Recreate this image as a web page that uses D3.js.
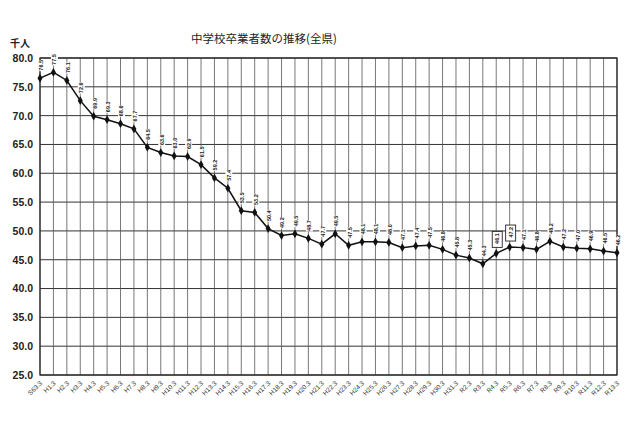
<!DOCTYPE html>
<html><head><meta charset="utf-8">
<script src="https://cdn.jsdelivr.net/npm/d3@7"></script>
<style>
html,body{margin:0;padding:0;background:#fff;}
svg{display:block;}
</style></head>
<body>
<svg id="c" width="640" height="426"></svg>
<script>
const categories = ["S63.3","H1.3","H2.3","H3.3","H4.3","H5.3","H6.3","H7.3","H8.3","H9.3","H10.3","H11.3","H12.3","H13.3","H14.3","H15.3","H16.3","H17.3","H18.3","H19.3","H20.3","H21.3","H22.3","H23.3","H24.3","H25.3","H26.3","H27.3","H28.3","H29.3","H30.3","H31.3","R2.3","R3.3","R4.3","R5.3","R6.3","R7.3","R8.3","R9.3","R10.3","R11.3","R12.3","R13.3"];
const values = [76.5,77.5,76.1,72.6,69.9,69.3,68.6,67.7,64.5,63.6,63.0,62.9,61.5,59.2,57.4,53.5,53.2,50.4,49.2,49.5,48.7,47.7,49.5,47.5,48.1,48.1,48.0,47.1,47.4,47.5,46.8,45.8,45.3,44.3,46.1,47.2,47.1,46.8,48.2,47.2,47.0,46.9,46.5,46.2];
const boxedCategories = ["R4.3","R5.3"];
const yTicks = [25,30,35,40,45,50,55,60,65,70,75,80];
const title = "中学校卒業者数の推移(全県)";
const unitLabel = "千人";

const svg = d3.select("#c");
const L = 40, R = 617, T = 58, B = 375;
const x = d3.scalePoint().domain(categories).range([L, R]).padding(0);
const y = d3.scaleLinear().domain([25, 80]).range([B, T]);
const data = categories.map((c, i) => ({c, v: values[i]}));

// horizontal grid
svg.append("g").selectAll("line").data(yTicks).join("line")
  .attr("x1", L).attr("x2", R).attr("y1", d => y(d)).attr("y2", d => y(d))
  .attr("stroke", "#333").attr("stroke-width", 1);
// vertical grid
svg.append("g").selectAll("line").data(categories).join("line")
  .attr("x1", d => x(d)).attr("x2", d => x(d)).attr("y1", T).attr("y2", B)
  .attr("stroke", "#555").attr("stroke-width", 0.8);
// frame
svg.append("rect").attr("x", L).attr("y", T).attr("width", R - L).attr("height", B - T)
  .attr("fill", "none").attr("stroke", "#222").attr("stroke-width", 1.2);

// y axis labels
const yAxis = d3.axisLeft(y).tickValues(yTicks).tickFormat(d3.format(".1f")).tickSize(0).tickPadding(7);
const ga = svg.append("g").attr("transform", `translate(${L},0)`).call(yAxis);
ga.select(".domain").remove();
ga.selectAll("text").attr("font-family", "Liberation Sans, Arial, sans-serif")
  .attr("font-size", 10.5).attr("font-weight", "bold").attr("fill", "#222");

// x axis labels (rotated 45°)
const xl = svg.append("g").selectAll("g").data(categories).join("g")
  .attr("transform", d => `translate(${x(d) + 1},${B + 7}) rotate(-45)`);
xl.append("text")
  .attr("text-anchor", "end").attr("dy", "0.35em")
  .attr("font-family", "Liberation Sans, Arial, sans-serif").attr("font-size", 6.5)
  .attr("fill", "#333")
  .text(d => d);

// line
svg.append("path").datum(data)
  .attr("d", d3.line().x(d => x(d.c)).y(d => y(d.v)))
  .attr("fill", "none").attr("stroke", "#111").attr("stroke-width", 1.5);

// markers
svg.append("g").selectAll("path").data(data).join("path")
  .attr("transform", d => `translate(${x(d.c)},${y(d.v)})`)
  .attr("d", d3.symbol(d3.symbolDiamond, 22)())
  .attr("fill", "#111");

// data labels
const lg = svg.append("g").selectAll("g").data(data).join("g")
  .attr("transform", d => `translate(${x(d.c) + 1},${y(d.v) - 7}) rotate(-90)`);
lg.append("rect")
  .attr("x", d => boxedCategories.includes(d.c) ? -1 : 0)
  .attr("y", d => boxedCategories.includes(d.c) ? -5 : -3.5)
  .attr("width", d => boxedCategories.includes(d.c) ? 16 : 11)
  .attr("height", d => boxedCategories.includes(d.c) ? 10 : 7)
  .attr("fill", "#fff")
  .attr("stroke", d => boxedCategories.includes(d.c) ? "#222" : "none")
  .attr("stroke-width", 0.9);
lg.append("text")
  .attr("x", d => boxedCategories.includes(d.c) ? 2.5 : 0.5)
  .attr("y", 0).attr("dy", "0.35em")
  .attr("font-family", "Liberation Sans, Arial, sans-serif").attr("font-size", 5.5)
  .attr("font-weight", "bold").attr("fill", "#222")
  .text(d => d.v.toFixed(1));

// title
svg.append("text").attr("x", 264).attr("y", 43).attr("text-anchor", "middle")
  .attr("font-family", "Noto Sans CJK JP, sans-serif").attr("font-size", 11.5).attr("fill", "#222")
  .text(title);
svg.append("text").attr("x", 20).attr("y", 47).attr("text-anchor", "middle")
  .attr("font-family", "Noto Sans CJK JP, sans-serif").attr("font-size", 10).attr("font-weight", "bold").attr("fill", "#222")
  .text(unitLabel);
</script>
</body></html>
